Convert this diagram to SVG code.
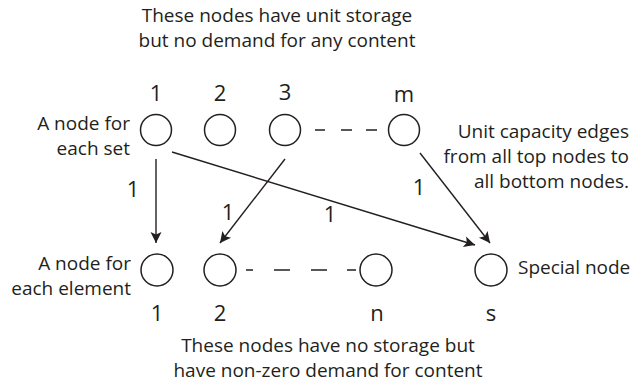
<svg xmlns="http://www.w3.org/2000/svg" width="634" height="385" viewBox="0 0 634 385">
<style>
text{font-family:"Open Sans","Noto Sans","Liberation Sans",sans-serif;fill:#231f20;font-size:19px}
.lbl{font-size:22px;text-anchor:middle}
.end{text-anchor:end}
.mid{text-anchor:middle}
.node{fill:#fff;stroke:#231f20;stroke-width:1.5}
.edge{stroke:#231f20;stroke-width:1.4;fill:none}
.dash{stroke:#231f20;stroke-width:1.4;fill:none}
</style>
<defs>
<marker id="ah" markerUnits="userSpaceOnUse" markerWidth="14" markerHeight="14" viewBox="-1 -7 14 14" refX="11" refY="0" orient="auto">
<path d="M0,-5.5 L11,0 L0,5.5 L2.5,0 Z" fill="#231f20"/>
</marker>
</defs>
<g id="notes">
<text class="mid" x="277" y="22">These nodes have unit storage</text>
<text class="mid" x="277" y="47">but no demand for any content</text>
<text class="end" x="130" y="130">A node for</text>
<text class="end" x="130" y="155">each set</text>
<text class="end" x="131" y="270">A node for</text>
<text class="end" x="131" y="295">each element</text>
<text class="end" x="629" y="138">Unit capacity edges</text>
<text class="end" x="629" y="163">from all top nodes to</text>
<text class="end" x="629" y="188">all bottom nodes.</text>
<text x="518" y="274">Special node</text>
<text class="mid" x="328" y="352">These nodes have no storage but</text>
<text class="mid" x="328" y="377">have non-zero demand for content</text>
</g>
<g id="top-1"><circle class="node" cx="156" cy="130" r="15.5"/><text class="lbl" x="156" y="101">1</text></g>
<g id="top-2"><circle class="node" cx="220" cy="130" r="15.5"/><text class="lbl" x="220" y="101">2</text></g>
<g id="top-3"><circle class="node" cx="285" cy="130" r="15.5"/><text class="lbl" x="285" y="100">3</text></g>
<g id="top-m"><circle class="node" cx="404" cy="130" r="15.5"/><text class="lbl" x="404" y="102">m</text></g>
<g id="bot-1"><circle class="node" cx="157" cy="270" r="16"/><text class="lbl" x="157" y="321">1</text></g>
<g id="bot-2"><circle class="node" cx="220" cy="270" r="16"/><text class="lbl" x="220" y="321">2</text></g>
<g id="bot-n"><circle class="node" cx="376" cy="270" r="16"/><text class="lbl" x="377" y="321">n</text></g>
<g id="bot-s"><circle class="node" cx="491" cy="270" r="16"/><text class="lbl" x="491" y="321">s</text></g>
<g id="connectors">
<path class="dash" d="M315,130 H325 M341,130 H352 M366,130 H377"/>
<path class="dash" d="M246,270 H253 M274,270 H290 M311,270 H327 M347,270 H356"/>
<line class="edge" x1="156" y1="159" x2="156" y2="243" marker-end="url(#ah)"/>
<line class="edge" x1="172" y1="152" x2="475" y2="245" marker-end="url(#ah)"/>
<line class="edge" x1="285" y1="159" x2="220" y2="243" marker-end="url(#ah)"/>
<line class="edge" x1="420" y1="153" x2="490" y2="243" marker-end="url(#ah)"/>
<text class="lbl" x="133" y="197">1</text>
<text class="lbl" x="228" y="220">1</text>
<text class="lbl" x="330" y="222">1</text>
<text class="lbl" x="419" y="195">1</text>
</g>
</svg>
